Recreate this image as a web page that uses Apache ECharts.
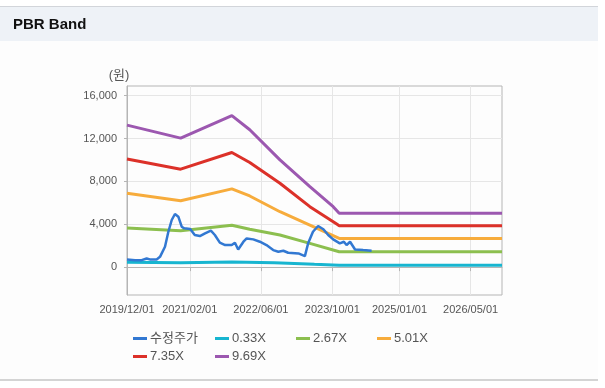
<!DOCTYPE html>
<html><head><meta charset="utf-8">
<script src="https://cdn.jsdelivr.net/npm/echarts@6/dist/echarts.min.js"></script>
<style>
html,body{margin:0;padding:0;background:#fff;}
#hdr{position:absolute;left:0;top:6px;width:598px;height:34px;background:#eef2f7;border-top:1px solid #d2d5da;}
#bd{position:absolute;left:0;top:41px;width:598px;height:338px;background:#fdfdfd;border-bottom:2px solid #d4d4d4;}
#c{position:absolute;left:0;top:0;width:605px;height:388px;}
</style>
</head><body>
<div id="hdr"></div><div id="bd"></div>
<div id="c"></div>
<script>
const titleText = 'PBR Band';
const unitText = '(원)';
const seriesNames = ['수정주가', '0.33X', '2.67X', '5.01X', '7.35X', '9.69X'];
const xTickLabels = ['2019/12/01', '2021/02/01', '2022/06/01', '2023/10/01', '2025/01/01', '2026/05/01'];
const yTickValues = [0, 4000, 8000, 12000, 16000];
const xRange = ['2019/12/01', '2026/12/01'];
const yRange = [-2600, 16900];

const price = [
  ['2019/12/01', 720], ['2019/12/10', 720], ['2020/01/25', 650], ['2020/03/10', 650],
  ['2020/04/13', 810], ['2020/05/05', 720], ['2020/06/20', 720], ['2020/07/13', 960],
  ['2020/08/16', 1900], ['2020/09/08', 3300], ['2020/10/01', 4400], ['2020/10/23', 4960],
  ['2020/11/15', 4710], ['2020/12/08', 3770], ['2020/12/25', 3620], ['2021/02/04', 3560],
  ['2021/03/07', 3000], ['2021/04/11', 2900], ['2021/05/16', 3150], ['2021/06/25', 3400],
  ['2021/07/22', 3000], ['2021/08/25', 2280], ['2021/09/30', 2060], ['2021/11/14', 2060],
  ['2021/12/06', 2280], ['2021/12/28', 1650], ['2022/02/02', 2370], ['2022/02/24', 2680],
  ['2022/04/10', 2590], ['2022/05/25', 2370], ['2022/07/09', 2060], ['2022/08/24', 1590],
  ['2022/09/28', 1430], ['2022/11/01', 1530], ['2022/12/04', 1340], ['2023/02/12', 1280],
  ['2023/03/28', 1030], ['2023/04/19', 2220], ['2023/05/22', 3300], ['2023/06/26', 3840],
  ['2023/08/01', 3530], ['2023/09/03', 3000], ['2023/10/07', 2590], ['2023/11/21', 2220],
  ['2023/12/19', 2370], ['2024/01/06', 2060], ['2024/01/30', 2370], ['2024/03/04', 1650],
  ['2024/04/28', 1590], ['2024/06/25', 1530]
];
const band033 = [
  ['2019/12/01', 450], ['2020/12/01', 410], ['2021/11/15', 480], ['2022/09/01', 400],
  ['2023/06/01', 260], ['2023/11/17', 180], ['2026/12/01', 180]
];
const band267 = [
  ['2019/12/01', 3650], ['2020/12/01', 3400], ['2021/11/15', 3900], ['2022/03/17', 3530],
  ['2022/10/09', 3000], ['2023/05/01', 2220], ['2023/11/17', 1430], ['2026/12/01', 1430]
];
const band501 = [
  ['2019/12/01', 6895], ['2020/12/01', 6200], ['2021/11/15', 7300], ['2022/03/17', 6640],
  ['2022/10/09', 5170], ['2023/05/01', 3930], ['2023/11/17', 2680], ['2026/12/01', 2680]
];
const band735 = [
  ['2019/12/01', 10080], ['2020/12/01', 9140], ['2021/11/15', 10700], ['2022/03/17', 9760],
  ['2022/10/09', 7830], ['2023/05/01', 5640], ['2023/10/31', 4020], ['2023/11/17', 3870],
  ['2026/12/01', 3870]
];
const band969 = [
  ['2019/12/01', 13250], ['2020/12/01', 12040], ['2021/11/15', 14130], ['2022/03/17', 12820],
  ['2022/10/09', 10010], ['2023/05/01', 7510], ['2023/10/07', 5640], ['2023/11/17', 5025],
  ['2026/12/01', 5025]
];

const seriesData = [price, band033, band267, band501, band735, band969];
const colors = ['#3278d2', '#17b5d0', '#8cbf4f', '#f7ac3c', '#dc3129', '#9c58b0'];
const widths = [2.5, 3, 3, 3, 3, 3];

function parseDay(s) {
  const p = s.split('/').map(Number);
  return Date.UTC(p[0], p[1] - 1, p[2]);
}
const xTickValues = xTickLabels.map(parseDay);
function fmtDate(v) {
  const d = new Date(v);
  const mm = String(d.getUTCMonth() + 1).padStart(2, '0');
  const dd = String(d.getUTCDate()).padStart(2, '0');
  return d.getUTCFullYear() + '/' + mm + '/' + dd;
}

const FONT = "'Liberation Sans', Arial, 'Noto Sans CJK KR', sans-serif";
const legendPos = [[133, 332], [215, 332], [296, 332], [377, 332], [133, 350], [215, 350]];

const chart = echarts.init(document.getElementById('c'), null, { renderer: 'canvas' });
const series = seriesNames.map((n, i) => ({
  name: n,
  type: 'line',
  data: seriesData[i].map(d => [parseDay(d[0]), d[1]]),
  showSymbol: false,
  symbol: 'none',
  z: i === 0 ? 5 : 3,
  lineStyle: { color: colors[i], width: widths[i] },
  itemStyle: { color: colors[i] },
  animation: false
}));

chart.setOption({
  backgroundColor: 'transparent',
  animation: false,
  color: colors,
  textStyle: { fontFamily: FONT },
  title: {
    text: titleText, left: 13, top: 17, padding: 0,
    textStyle: { fontSize: 15, fontWeight: 'bold', color: '#111', fontFamily: FONT }
  },
  legend: seriesNames.map((n, i) => ({
    data: [n], left: legendPos[i][0], top: legendPos[i][1], padding: 0,
    icon: 'rect', itemWidth: 14, itemHeight: 3, itemGap: 5,
    textStyle: { fontSize: 13, color: '#555', fontFamily: FONT, padding: [0, 0, 0, -2] },
    selectedMode: false
  })),
  grid: {
    left: 127, top: 86, right: 103, bottom: 93,
    show: true, borderColor: '#b5b5b5', borderWidth: 1, backgroundColor: 'transparent'
  },
  xAxis: {
    type: 'value',
    min: parseDay(xRange[0]), max: parseDay(xRange[1]),
    axisLine: { show: true, lineStyle: { color: '#b5b5b5' } },
    axisTick: { show: true, length: 4, customValues: xTickValues, lineStyle: { color: '#b5b5b5' } },
    axisLabel: {
      customValues: xTickValues, formatter: fmtDate, margin: 9,
      fontSize: 11, color: '#555', fontFamily: FONT, hideOverlap: false
    },
    splitLine: { show: true, customValues: xTickValues, lineStyle: { color: '#e6e6e6', width: 1 } }
  },
  yAxis: {
    type: 'value',
    min: yRange[0], max: yRange[1],
    name: unitText, nameLocation: 'end', nameGap: 4,
    nameTextStyle: { fontSize: 13, color: '#555', fontFamily: FONT, padding: [0, 16, 0, 0] },
    axisLine: { show: true, lineStyle: { color: '#b5b5b5' } },
    axisTick: { show: true, length: 3, customValues: yTickValues, lineStyle: { color: '#b5b5b5' } },
    axisLabel: {
      customValues: yTickValues, margin: 10, fontSize: 11, color: '#555', fontFamily: FONT,
      formatter: v => v.toLocaleString('en-US')
    },
    splitLine: { show: true, customValues: yTickValues, lineStyle: { color: '#e6e6e6', width: 1 } }
  },
  series: series
});
</script>
</body></html>
